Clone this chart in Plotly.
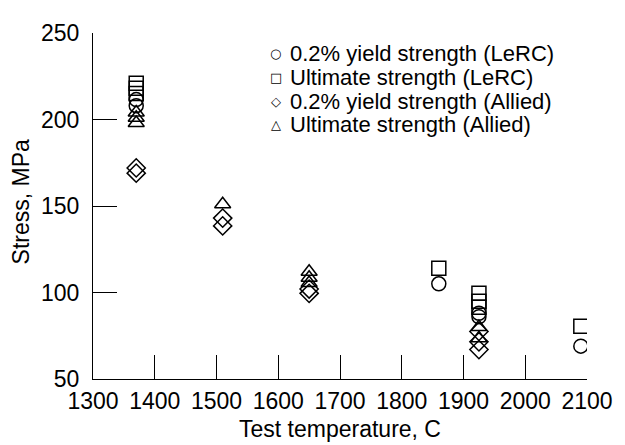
import plotly.graph_objects as go

# Data
yield_lerc_T = [1370, 1370, 1860, 1925, 1925, 2090]
yield_lerc_S = [211.5, 208, 105, 88, 86, 69]

ult_lerc_T = [1370, 1370, 1370, 1860, 1925, 1925, 1925, 2090]
ult_lerc_S = [221, 218, 215, 114, 99.5, 95, 91.5, 80.5]

yield_allied_T = [1370, 1370, 1510, 1510, 1650, 1650, 1925, 1925, 1925]
yield_allied_S = [172, 169, 143, 138.5, 102, 99.5, 77.5, 71.5, 67]

ult_allied_T = [1370, 1370, 1370, 1510, 1650, 1650, 1650, 1925, 1925]
ult_allied_S = [204, 201, 198, 151, 112, 108.5, 105.5, 80, 73.5]

series_names = [
    "0.2% yield strength (LeRC)",
    "Ultimate strength (LeRC)",
    "0.2% yield strength (Allied)",
    "Ultimate strength (Allied)",
]
series_symbols = ["circle-open", "square-open", "diamond-open", "triangle-up-open"]
legend_glyphs = ["○", "□", "◇", "△"]
series_T = [yield_lerc_T, ult_lerc_T, yield_allied_T, ult_allied_T]
series_S = [yield_lerc_S, ult_lerc_S, yield_allied_S, ult_allied_S]

x_ticks = [1300, 1400, 1500, 1600, 1700, 1800, 1900, 2000, 2100]
y_ticks = [50, 100, 150, 200, 250]
x_title = "Test temperature, C"
y_title = "Stress, MPa"

FONT = "Liberation Sans, Arial, Helvetica, sans-serif"
FS = 23

# Page body has an 8px margin; size the figure so the plot lands where the reference has it.
OFF = 8
W, H = 617, 437
ML, MR, MT, MB = 85, 29, 13, 66
PW = W - ML - MR
PH = H - MT - MB


def px_to_paper_x(px):
    return (px - OFF - ML) / PW


def px_to_paper_y(py):
    return 1 - (py - OFF - MT) / PH


fig = go.Figure()
for name, xs, ys, sym in zip(series_names, series_T, series_S, series_symbols):
    fig.add_trace(go.Scatter(
        x=xs, y=ys, mode="markers", name=name, showlegend=False,
        marker=dict(symbol=sym, size=14, color="black", line=dict(width=1.5, color="black")),
    ))

axis_common = dict(
    showline=True, linecolor="black", linewidth=1.3,
    ticks="inside", ticklen=24, tickwidth=1.3, tickcolor="black",
    showgrid=False, zeroline=False, mirror=False,
    tickfont=dict(family=FONT, size=FS, color="black"),
)

fig.update_xaxes(range=[1300, 2100], tickvals=x_ticks, ticktext=[str(v) for v in x_ticks],
                 ticklabelstandoff=1, **axis_common)
fig.update_yaxes(range=[50, 250], tickvals=y_ticks, ticktext=[str(v) for v in y_ticks],
                 ticklabelstandoff=8, **axis_common)

# Axis titles
fig.add_annotation(x=px_to_paper_x(345), y=px_to_paper_y(431), xref="paper", yref="paper",
                   text=x_title, showarrow=False, xanchor="center", yanchor="middle",
                   font=dict(family=FONT, size=FS, color="black"))
fig.add_annotation(x=px_to_paper_x(20), y=px_to_paper_y(196), xref="paper", yref="paper",
                   text=y_title, showarrow=False, textangle=-90, xanchor="center", yanchor="middle",
                   font=dict(family=FONT, size=FS, color="black"))

# Text legend (glyph + label)
row_y_px = [42, 66.7, 91.4, 116]
sym_x_px = 279
txt_x_px = 292
for glyph, name, ypx in zip(legend_glyphs, series_names, row_y_px):
    fig.add_annotation(x=px_to_paper_x(sym_x_px), y=px_to_paper_y(ypx), xref="paper", yref="paper",
                       text=glyph, showarrow=False, xanchor="center", yanchor="middle",
                       font=dict(family="DejaVu Sans", size=13, color="black"))
    fig.add_annotation(x=px_to_paper_x(txt_x_px), y=px_to_paper_y(ypx), xref="paper", yref="paper",
                       text=name, showarrow=False, xanchor="left", yanchor="middle",
                       font=dict(family=FONT, size=22, color="black"))

fig.update_layout(
    width=W, height=H,
    margin=dict(l=ML, r=MR, t=MT, b=MB),
    plot_bgcolor="white", paper_bgcolor="white",
    font=dict(family=FONT, size=FS, color="black"),
    showlegend=False,
)

fig.write_html("out.html")
